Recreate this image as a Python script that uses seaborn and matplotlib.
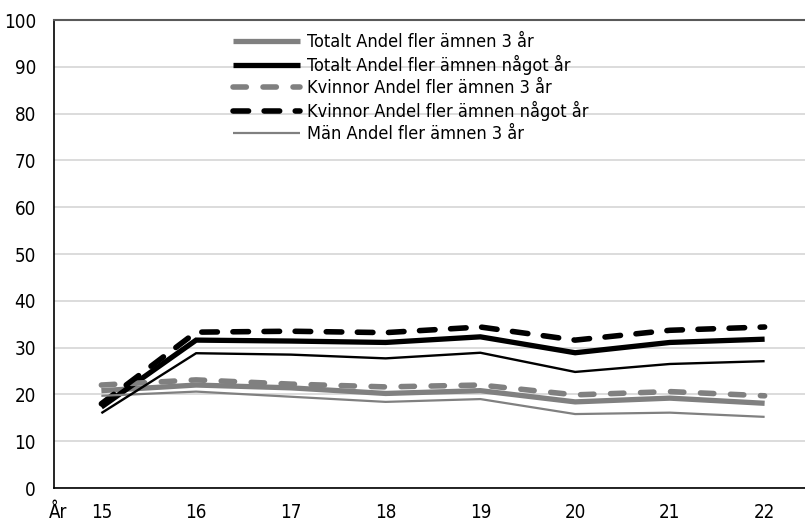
import matplotlib
matplotlib.use("Agg")
import matplotlib.pyplot as plt
import seaborn as sns
import pandas as pd
from matplotlib.ticker import FixedLocator, NullFormatter

years = ["15", "16", "17", "18", "19", "20", "21", "22"]

totalt_3ar = [20.8, 22.0, 21.4, 20.2, 20.8, 18.4, 19.2, 18.1]
totalt_nagot = [17.3, 31.6, 31.4, 31.1, 32.3, 28.9, 31.1, 31.8]
kvinnor_3ar = [22.0, 23.1, 22.2, 21.6, 22.0, 19.9, 20.6, 19.7]
kvinnor_nagot = [18.0, 33.3, 33.5, 33.2, 34.4, 31.6, 33.7, 34.4]
man_3ar = [19.7, 20.6, 19.5, 18.4, 19.0, 15.8, 16.1, 15.2]
man_nagot = [16.0, 28.8, 28.5, 27.7, 28.9, 24.8, 26.5, 27.1]

series = [
    ("Totalt Andel fler ämnen 3 år", totalt_3ar, "#808080", 3.8, "-", True),
    ("Totalt Andel fler ämnen något år", totalt_nagot, "#000000", 3.8, "-", True),
    ("Kvinnor Andel fler ämnen 3 år", kvinnor_3ar, "#808080", 4.0, (0, (2.4, 3.0)), True),
    ("Kvinnor Andel fler ämnen något år", kvinnor_nagot, "#000000", 4.0, (0, (2.8, 2.8)), True),
    ("Män Andel fler ämnen 3 år", man_3ar, "#808080", 1.6, "-", True),
    ("Män Andel fler ämnen något år", man_nagot, "#000000", 1.7, "-", False),
]

sns.set_theme(style="white")
plt.rcParams["font.family"] = ["DejaVu Sans"]
plt.rcParams["font.stretch"] = "condensed"
plt.rcParams["text.color"] = "#000000"

fig = plt.figure(figsize=(8.05, 5.25), dpi=100)
ax = fig.add_axes([54 / 805, 37 / 525, 758 / 805, 468 / 525])

handles = []
for name, vals, color, lw, ls, in_legend in series:
    df = pd.DataFrame({"År": years, "Andel": vals})
    sns.lineplot(data=df, x="År", y="Andel", ax=ax, color=color, linewidth=lw,
                 linestyle=ls, sort=False, legend=False)
    line = ax.lines[-1]
    line.set_solid_capstyle("butt")
    line.set_dash_capstyle("round")
    line.set_solid_joinstyle("miter")
    if in_legend:
        line.set_label(name)
        handles.append(line)

ax.set_ylim(0, 100)
ax.set_xlim(-0.5, len(years) - 0.5)
ax.set_yticks(range(0, 101, 10))
ax.yaxis.grid(True, color="#d9d9d9", linewidth=1.3)
ax.set_axisbelow(True)
ax.tick_params(axis="y", length=0, pad=13, labelsize=13.5, labelcolor="#000000")

# category labels in the middle, tick marks on the boundaries
ax.xaxis.set_major_locator(FixedLocator([i - 0.5 for i in range(len(years) + 1)]))
ax.xaxis.set_major_formatter(NullFormatter())
ax.xaxis.set_minor_locator(FixedLocator(range(len(years))))
ax.set_xticklabels(years, minor=True)
ax.tick_params(axis="x", which="major", direction="inout", length=10, width=1, color="#000000")
ax.tick_params(axis="x", which="minor", length=0, pad=11, labelsize=13.5, labelcolor="#000000")
ax.set_xlabel("")
ax.set_ylabel("")
ax.annotate("År", xy=(0, 0), xycoords="axes fraction", xytext=(-4, -11),
            textcoords="offset points", ha="left", va="top", fontsize=13.5)

for side in ["left", "bottom"]:
    ax.spines[side].set_color("#000000")
    ax.spines[side].set_linewidth(1.2)
ax.spines["top"].set_color("#595959")
ax.spines["top"].set_linewidth(1.5)
ax.spines["right"].set_visible(False)

leg = ax.legend(handles=handles, loc="upper left", bbox_to_anchor=(233 / 805, 1 - 33 / 525),
                bbox_transform=fig.transFigure, frameon=False, fontsize=13,
                handlelength=3.7, handletextpad=0.4, labelspacing=0.22, borderpad=0,
                borderaxespad=0)
for t in leg.get_texts():
    t.set_color("#000000")

fig.savefig("out.png", dpi=100)
